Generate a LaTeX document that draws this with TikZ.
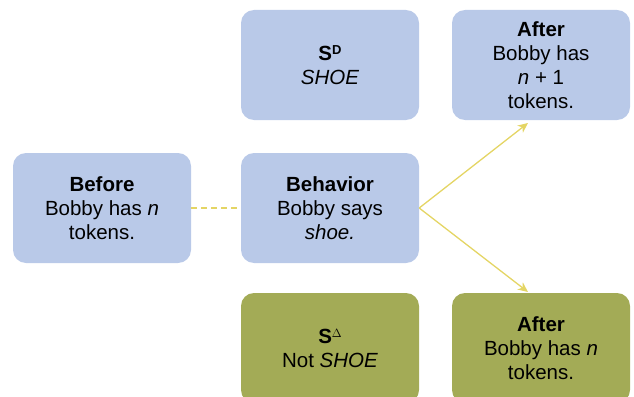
\documentclass[tikz,border=0pt]{standalone}
\usepackage{fontspec}
\setmainfont{Liberation Sans}
\usetikzlibrary{arrows.meta}
\definecolor{boxblue}{HTML}{B9C9E8}
\definecolor{boxgreen}{HTML}{A3AB56}
\definecolor{linkyellow}{HTML}{E4D564}
\newcommand{\supsym}[1]{\raisebox{0.55ex}{\fontsize{13}{13}\selectfont #1}}
\begin{document}
\begin{tikzpicture}[x=1pt,y=-1pt,
  card/.style={rounded corners=13pt, minimum width=178pt, minimum height=110pt,
    inner sep=0pt, align=center, font=\fontsize{20.5}{24}\selectfont},
  bluecard/.style={card, fill=boxblue},
  greencard/.style={card, fill=boxgreen},
  link/.style={draw=linkyellow, line width=1.3pt},
  arrowlink/.style={link, -{Stealth[length=10pt,width=9pt,inset=3pt]}}]
  \clip (0,0) rectangle (634,396);
  \useasboundingbox (0,0) rectangle (634,396);

  % condition boxes
  \node[bluecard] (before) at (102,208) {\textbf{Before}\\Bobby has \textit{n}\\tokens.};
  \node[bluecard] (behavior) at (330,208) {\textbf{Behavior}\\Bobby says\\\textit{shoe.}};
  \node[bluecard] (sd) at (330,65) {\textbf{S}\supsym{\textbf{D}}\\\textit{SHOE}};
  \node[bluecard] (after1) at (541,65) {\textbf{After}\\Bobby has\\\textit{n} + 1\\tokens.};
  \node[greencard] (sdelta) at (330,348) {\textbf{S}\supsym{$\Delta$}\\Not \textit{SHOE}};
  \node[greencard] (after2) at (541,348) {\textbf{After}\\Bobby has \textit{n}\\tokens.};

  % arrow end points just short of the outcome boxes
  \coordinate (tipA) at (528,123);
  \coordinate (tipB) at (528,292);

  % connectors
  \draw[link, dash pattern=on 6pt off 4pt] (before.east) -- (behavior.west);
  \draw[arrowlink] (behavior.east) -- (tipA);
  \draw[arrowlink] (behavior.east) -- (tipB);
\end{tikzpicture}
\end{document}
